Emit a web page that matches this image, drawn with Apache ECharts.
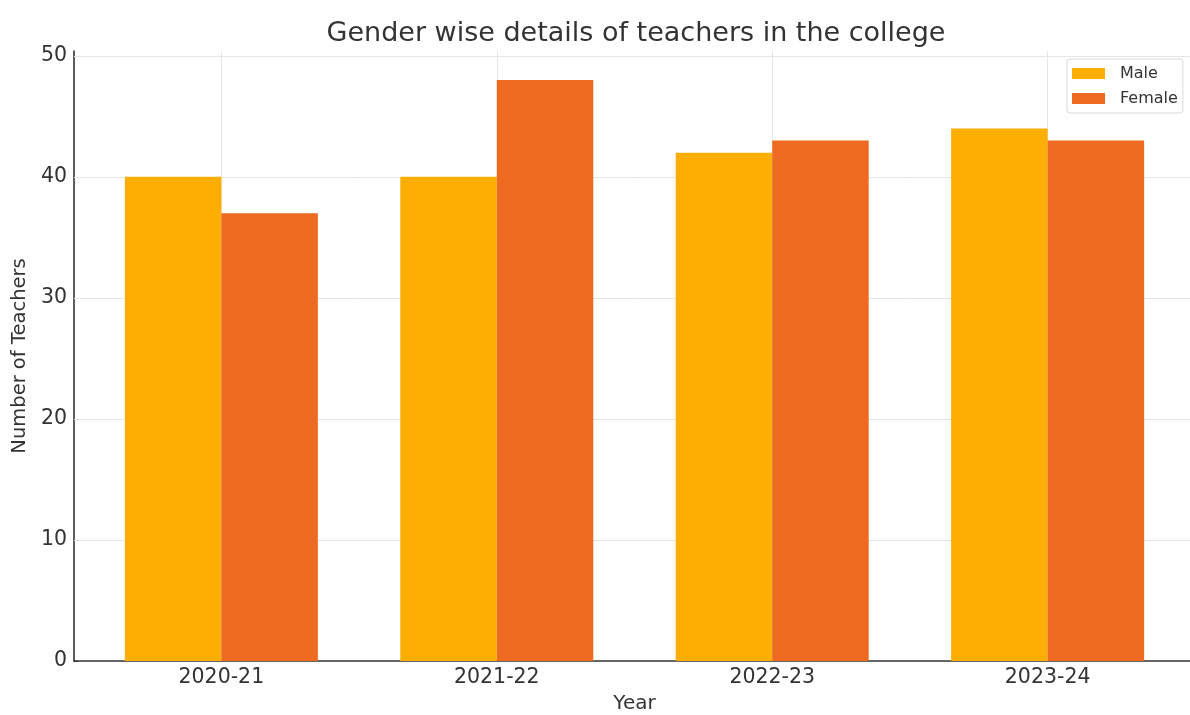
<!DOCTYPE html>
<html>
<head>
<meta charset="utf-8">
<script src="https://cdn.jsdelivr.net/npm/echarts@6/dist/echarts.min.js"></script>
<style>html,body{margin:0;padding:0;background:#fff}#c{width:1190px;height:715px}</style>
</head>
<body>
<div id="c"></div>
<script>
var categories = ['2020-21', '2021-22', '2022-23', '2023-24'];
var male = [40, 40, 42, 44];
var female = [37, 48, 43, 43];
var yTicks = [0, 10, 20, 30, 40, 50];

var FONT = 'DejaVu Sans';
var chart = echarts.init(document.getElementById('c'), null, {renderer: 'canvas'});
var idx = categories.map(function (c, i) { return i; });

chart.setOption({
  animation: false,
  backgroundColor: '#ffffff',
  textStyle: {fontFamily: FONT},
  title: {
    text: 'Gender wise details of teachers in the college',
    left: 631, top: 15, textAlign: 'center',
    textStyle: {fontFamily: FONT, fontSize: 27, fontWeight: 'normal', color: '#333333'}
  },
  legend: {
    orient: 'vertical', left: 1067, top: 59,
    padding: [6, 5, 6, 5], itemGap: 8,
    itemWidth: 33, itemHeight: 11, icon: 'rect',
    borderColor: '#d9d9d9', borderWidth: 1, borderRadius: 3,
    textStyle: {fontFamily: FONT, fontSize: 16, color: '#333333', lineHeight: 17, padding: [0, 0, 0, 10]},
    data: ['Male', 'Female']
  },
  grid: {left: 74, top: 51, width: 1121, bottom: 54, containLabel: false, outerBoundsMode: 'none'},
  xAxis: {
    type: 'value', min: -0.535, max: 3.535,
    name: 'Year', nameLocation: 'middle', nameGap: 33,
    nameTextStyle: {fontFamily: FONT, fontSize: 20, color: '#333333'},
    axisLine: {show: true, onZero: false, lineStyle: {color: '#333333', width: 1.6}},
    axisTick: {show: true, customValues: idx, length: 4, inside: true, lineStyle: {color: '#333333'}},
    axisLabel: {customValues: idx, fontFamily: FONT, fontSize: 20.5, color: '#333333', margin: 6,
      formatter: function (v) { return categories[Math.round(v)] || ''; }},
    splitLine: {show: false}
  },
  yAxis: {
    type: 'value', min: 0, max: 50.4,
    name: 'Number of Teachers', nameLocation: 'middle', nameGap: 40,
    nameTextStyle: {fontFamily: FONT, fontSize: 19.5, color: '#333333'},
    axisLine: {show: true, onZero: false, lineStyle: {color: '#333333', width: 1.6}},
    axisTick: {show: true, customValues: yTicks, length: 4, inside: true, lineStyle: {color: '#333333'}},
    axisLabel: {customValues: yTicks, fontFamily: FONT, fontSize: 20.5, color: '#333333', margin: 7},
    splitLine: {show: false}
  },
  series: [
    {
      name: 'grid', type: 'line', data: [], silent: true, z: 1,
      markLine: {
        silent: true, symbol: 'none', z: 1, label: {show: false},
        lineStyle: {color: '#e6e6e6', type: 'solid', width: 1},
        data: idx.map(function (i) { return {xAxis: i}; }).concat(
          yTicks.slice(1).map(function (t) { return {yAxis: t}; }))
      }
    },
    {
      name: 'Male', type: 'bar', barWidth: 96.5, barGap: '0%', z: 2,
      itemStyle: {color: '#fcae03'},
      data: idx.map(function (i) { return [i, male[i]]; })
    },
    {
      name: 'Female', type: 'bar', barWidth: 96.5, barGap: '0%', z: 2,
      itemStyle: {color: '#ee6a21'},
      data: idx.map(function (i) { return [i, female[i]]; })
    }
  ]
});
</script>
</body>
</html>
